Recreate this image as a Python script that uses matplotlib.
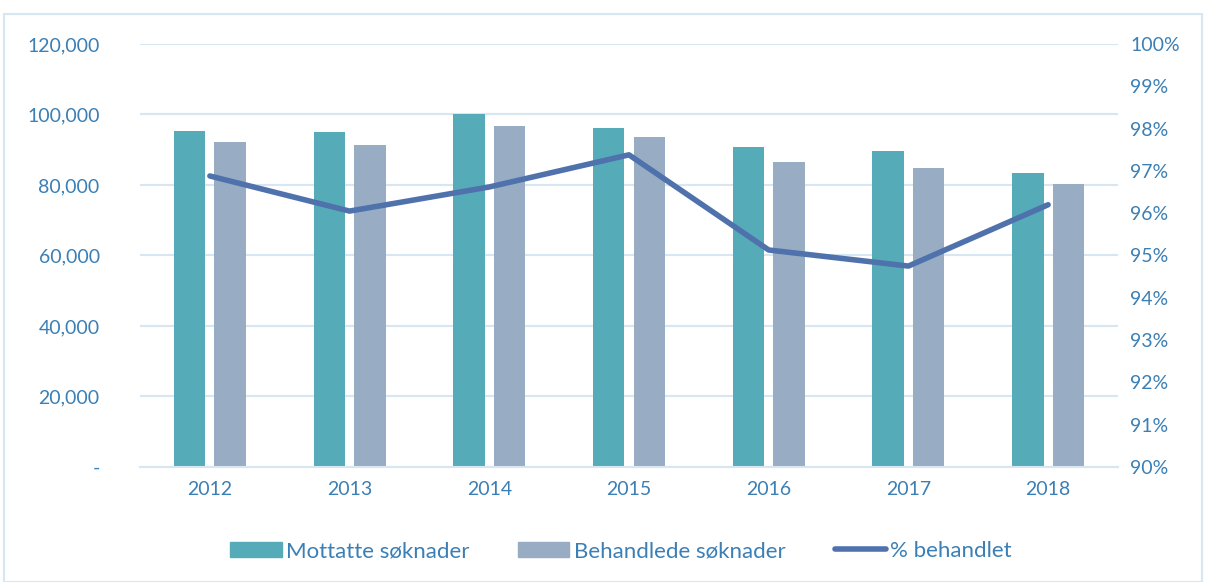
import matplotlib.pyplot as plt
import numpy as np
from matplotlib.ticker import FuncFormatter
from matplotlib.patches import Rectangle
from matplotlib.lines import Line2D

years = ['2012', '2013', '2014', '2015', '2016', '2017', '2018']
mottatte = [95300, 95000, 100100, 96200, 90800, 89600, 83400]
behandlede = [92200, 91300, 96700, 93600, 86500, 84800, 80300]
pct_behandlet = [96.88, 96.05, 96.62, 97.38, 95.13, 94.75, 96.20]

teal = '#55ACB8'
greyblue = '#98ADC4'
linec = '#4F72AD'
textc = '#3A7FB5'
gridc = '#D6E6F3'

plt.rcParams['font.family'] = ['Lato', 'DejaVu Sans']

fig = plt.figure(figsize=(12.06, 5.82), dpi=100)
ax = fig.add_axes([0.1161, 0.1976, 0.8109, 0.7268])
ax2 = ax.twinx()

x = np.arange(len(years))
w = 0.225
ax.bar(x - 0.145, mottatte, w, color=teal, zorder=2)
ax.bar(x + 0.145, behandlede, w, color=greyblue, zorder=2)

ax.set_xlim(-0.5, 6.5)
ax.set_ylim(0, 120000)
ax.set_yticks(range(0, 120001, 20000))
ax.yaxis.set_major_formatter(FuncFormatter(lambda v, p: '-' if v == 0 else f'{int(v):,}'))
ax.set_xticks(x)
ax.set_xticklabels(years)
ax.grid(axis='y', color=gridc, linewidth=1.5, zorder=0)
ax.set_axisbelow(True)

ax2.plot(x, pct_behandlet, color=linec, linewidth=4, solid_capstyle='round', zorder=3)
ax2.set_ylim(90, 100)
ax2.set_yticks(range(90, 101))
ax2.yaxis.set_major_formatter(FuncFormatter(lambda v, p: f'{int(v)}%'))

for a in (ax, ax2):
    for s in a.spines.values():
        s.set_visible(False)
    a.tick_params(length=0, labelsize=14, colors=textc)
ax.spines['bottom'].set_visible(True)
ax.spines['bottom'].set_color(gridc)
ax.spines['bottom'].set_linewidth(1.5)
ax.tick_params(axis='y', pad=29)
ax.tick_params(axis='x', pad=10)
ax2.tick_params(axis='y', pad=9)

fig.add_artist(Rectangle((4 / 1206, 0.0), 1 - 8 / 1206, 1 - 14 / 582, transform=fig.transFigure,
                         fill=False, edgecolor=gridc, linewidth=1.5))

handles = [Rectangle((0, 0), 1, 1, color=teal), Rectangle((0, 0), 1, 1, color=greyblue),
           Line2D([0], [0], color=linec, linewidth=4, solid_capstyle='round')]
labels = ['Mottatte søknader', 'Behandlede søknader', '% behandlet']
leg = fig.legend(handles, labels, loc='center', bbox_to_anchor=(0.515, 0.053), ncol=3, frameon=False,
                 fontsize=16, handlelength=2.3, handleheight=0.7, handletextpad=0.2, columnspacing=2.2)
for t in leg.get_texts():
    t.set_color(textc)

fig.savefig('out.png', dpi=100)
